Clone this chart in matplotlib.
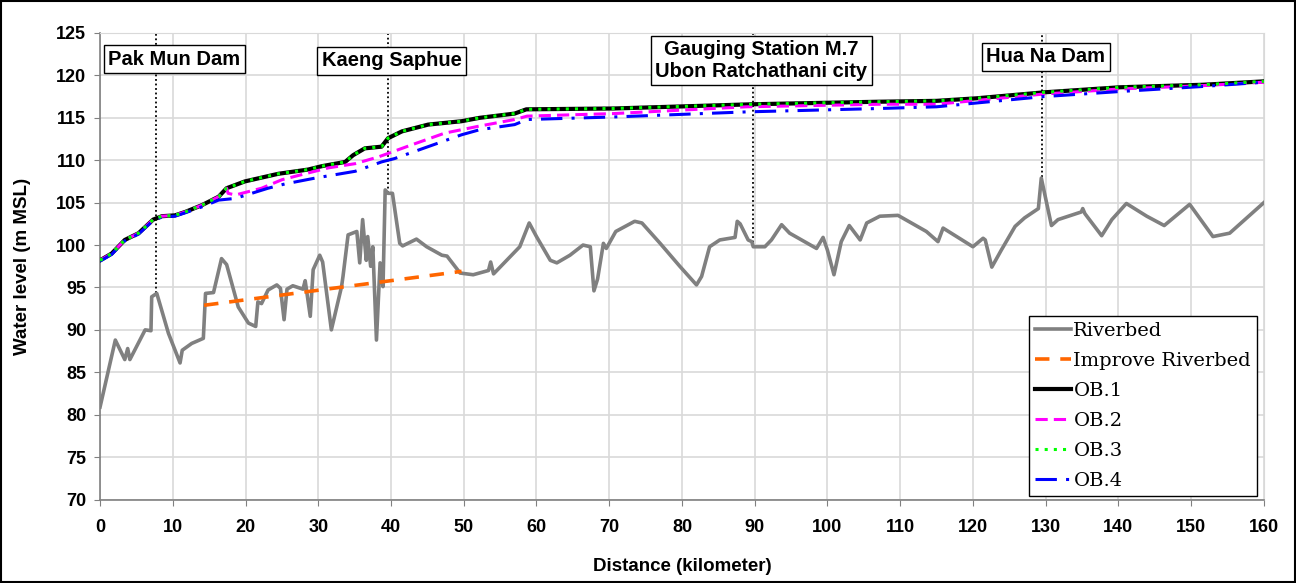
import numpy as np
import matplotlib
matplotlib.use("Agg")
import matplotlib.pyplot as plt

# riverbed profile (km, m MSL)
bed_x = [0, 2.1, 3.4, 3.8, 4.1, 6.2, 7.0, 7.1, 7.8, 9.4, 11.0, 11.3, 12.6, 14.2, 14.5,
         15.6, 16.7, 17.4, 19.0, 20.4, 21.4, 21.7, 22.2, 23.1, 24.3, 24.8, 25.3, 25.7,
         26.5, 27.9, 28.2, 28.9, 29.3, 30.2, 30.6, 31.8, 33.2, 33.4, 34.1, 35.3, 35.7,
         36.1, 36.6, 36.8, 37.2, 37.5, 38.0, 38.5, 38.9, 39.2, 39.6, 40.2, 41.2, 41.6,
         43.5, 44.9, 47.0, 47.7, 49.5, 51.3, 53.4, 53.7, 54.1, 57.7, 59.0, 60.0, 61.9,
         62.8, 64.6, 66.4, 67.4, 67.9, 68.4, 69.2, 69.6, 70.9, 73.5, 74.5, 77.0, 79.7,
         82.0, 82.7, 83.8, 85.2, 87.3, 87.6, 88.0, 89.1, 89.6, 89.8, 91.4, 92.3, 93.7,
         94.8, 98.5, 99.4, 100.0, 100.9, 101.9, 103.0, 104.5, 105.4, 107.2, 109.7, 113.6,
         115.2, 115.9, 120.0, 121.4, 121.7, 122.6, 123.9, 125.8, 127.1, 129.0, 129.4,
         130.8, 131.7, 134.9, 135.1, 135.4, 137.7, 139.1, 141.1, 143.9, 146.3, 149.8,
         153.0, 155.3, 160]
bed_y = [80.9, 88.8, 86.5, 87.8, 86.5, 90.0, 89.9, 93.9, 94.3, 89.6, 86.1, 87.6, 88.4, 89.0, 94.3,
         94.4, 98.4, 97.7, 92.7, 90.8, 90.4, 93.3, 93.1, 94.7, 95.3, 94.9, 91.2, 94.8,
         95.2, 94.8, 95.8, 91.6, 97.1, 98.8, 98.0, 90.0, 95.1, 96.3, 101.2, 101.6, 97.9,
         103.0, 98.2, 101.0, 97.5, 99.8, 88.8, 97.9, 95.1, 106.5, 106.1, 106.1, 100.2, 99.9,
         100.7, 99.8, 98.8, 98.7, 96.7, 96.5, 97.0, 98.0, 96.6, 99.8, 102.6, 101.0, 98.2,
         97.9, 98.8, 100.0, 99.8, 94.6, 96.0, 100.2, 99.6, 101.6, 102.8, 102.6, 100.2, 97.5,
         95.3, 96.3, 99.8, 100.6, 100.9, 102.8, 102.5, 100.6, 100.4, 99.8, 99.8, 100.6, 102.4,
         101.4, 99.6, 100.9, 99.4, 96.5, 100.4, 102.3, 100.6, 102.6, 103.4, 103.5, 101.6,
         100.4, 102.0, 99.8, 100.8, 100.6, 97.4, 99.4, 102.2, 103.2, 104.3, 107.9,
         102.3, 103.0, 103.9, 104.3, 103.7, 101.1, 103.0, 104.9, 103.4, 102.3, 104.8,
         101.0, 101.4, 105.0]

improve_x = [14.3, 49.7]
improve_y = [92.9, 96.9]

# OB.1 and OB.3 overlap
ob1_x = [0, 1.6, 3.4, 5.3, 7.3, 8.5, 10.3, 11.7, 14.0, 16.3, 17.4, 19.9, 24.5, 28.6, 30.5,
         33.7, 34.8, 36.4, 38.7, 39.6, 41.5, 45.1, 49.7, 52.2, 57.0, 58.6, 70.6, 89.8,
         107.2, 115.0, 120.5, 129.7, 140.2, 151.7, 160]
ob1_y = [98.2, 99.0, 100.6, 101.4, 103.0, 103.4, 103.5, 103.9, 104.7, 105.7, 106.7, 107.5, 108.4,
         108.9, 109.3, 109.8, 110.6, 111.4, 111.6, 112.6, 113.4, 114.2, 114.6, 115.0, 115.5,
         116.0, 116.1, 116.6, 116.9, 117.0, 117.3, 118.0, 118.6, 118.9, 119.3]
ob3_x = ob1_x
ob3_y = ob1_y

ob2_x = [0, 1.6, 3.4, 5.3, 7.3, 8.5, 10.3, 11.7, 14.0, 16.3, 17.4, 17.6, 18.6, 22.2, 25.0,
         27.7, 31.4, 35.1, 38.3, 39.6, 42.8, 47.4, 52.0, 57.0, 58.7, 70.6, 88.9, 107.2,
         115.0, 129.7, 140.2, 151.7, 160]
ob2_y = [98.2, 99.0, 100.6, 101.4, 103.0, 103.4, 103.5, 103.9, 104.7, 105.7, 106.7, 106.1, 105.9,
         106.7, 107.7, 108.3, 109.1, 109.6, 110.4, 110.8, 111.8, 113.2, 114.0, 114.8, 115.2,
         115.5, 116.3, 116.6, 116.6, 117.8, 118.4, 118.8, 119.2]

ob4_x = [0, 1.6, 3.4, 5.3, 7.3, 8.5, 10.3, 11.7, 14.0, 16.3, 18.6, 23.1, 25.4, 29.6, 35.1,
         38.7, 40.5, 45.1, 49.7, 52.2, 57.0, 58.7, 70.6, 88.9, 107.2, 115.0, 129.7, 140.2,
         151.7, 160]
ob4_y = [98.1, 98.9, 100.5, 101.3, 102.9, 103.3, 103.4, 103.8, 104.5, 105.3, 105.5, 106.7, 107.2,
         107.9, 108.7, 109.8, 110.2, 111.6, 113.0, 113.6, 114.2, 114.8, 115.1, 115.7, 116.1,
         116.3, 117.5, 118.1, 118.7, 119.2]

# station markers
stations = ["Pak Mun Dam", "Kaeng Saphue", "Gauging Station M.7\nUbon Ratchathani city", "Hua Na Dam"]
station_x = [7.65, 39.6, 89.8, 129.5]
station_bed = [94.3, 106.1, 99.8, 108.0]
label_x = [10.2, 40.1, 90.9, 130.0]
label_y = [121.9, 121.7, 121.75, 122.2]

fig = plt.figure(figsize=(12.96, 5.83), dpi=100)
ax = fig.add_axes([0.0772, 0.1432, 0.898, 0.8002])

ax.plot(bed_x, bed_y, color="#808080", lw=2.6, label="Riverbed", zorder=3)
ax.plot(improve_x, improve_y, color="#FF6600", lw=2.6, ls=(0, (4, 3)), label="Improve Riverbed", zorder=3)
ax.plot(ob1_x, ob1_y, color="black", lw=3, label="OB.1", zorder=4)
ax.plot(ob2_x, ob2_y, color="#FF00FF", lw=2.2, ls=(0, (4, 2)), label="OB.2", zorder=4)
ax.plot(ob3_x, ob3_y, color="#00FF00", lw=2.2, ls=(0, (1, 2)), label="OB.3", zorder=5)
ax.plot(ob4_x, ob4_y, color="#0000FF", lw=2.2, ls=(0, (7, 3, 1, 3)), label="OB.4", zorder=4)

for sx, sb, lx, ly, name in zip(station_x, station_bed, label_x, label_y, stations):
    ax.plot([sx, sx], [sb, 125], color="black", lw=1.3, ls=(0, (1, 1.5)), zorder=2)
    ax.text(lx, ly, name, ha="center", va="center", fontsize=14.5, fontweight="bold",
            family="Liberation Sans", linespacing=1.15, zorder=6,
            bbox=dict(boxstyle="square,pad=0.22", fc="white", ec="black", lw=1))

ax.set_xlim(0, 160)
ax.set_ylim(70, 125)
ax.set_xticks(np.arange(0, 161, 10))
ax.set_yticks(np.arange(70, 126, 5))
ax.grid(True, color="#d9d9d9", lw=1.2, zorder=0)
ax.set_axisbelow(True)
for s in ["top", "right"]:
    ax.spines[s].set_color("#d9d9d9")
for s in ["left", "bottom"]:
    ax.spines[s].set_color("#808080")
    ax.spines[s].set_linewidth(1.2)
ax.tick_params(axis="both", direction="out", length=4, color="#808080", labelsize=13, pad=6)
for lab in ax.get_xticklabels() + ax.get_yticklabels():
    lab.set_fontweight("bold")
    lab.set_family("Liberation Sans")
ax.tick_params(axis="x", pad=10)

ax.set_xlabel("Distance (kilometer)", fontsize=13.5, fontweight="bold", family="Liberation Sans", labelpad=16)
ax.set_ylabel("Water level (m MSL)", fontsize=13.5, fontweight="bold", family="Liberation Sans", labelpad=18)

leg = ax.legend(loc="lower right", bbox_to_anchor=(0.994, 0.0075), borderaxespad=0,
                prop={"family": "DejaVu Serif", "size": 14}, fancybox=False,
                edgecolor="black", framealpha=1, handlelength=1.9, handletextpad=0.1,
                labelspacing=0.62, borderpad=0.3)
leg.get_frame().set_linewidth(1.0)
leg.set_zorder(10)

# outer border
fig.patches.append(plt.Rectangle((0.001, 0.001), 0.998, 0.997, transform=fig.transFigure,
                                 fill=False, ec="black", lw=1.5))

fig.savefig("out.png", dpi=100)
